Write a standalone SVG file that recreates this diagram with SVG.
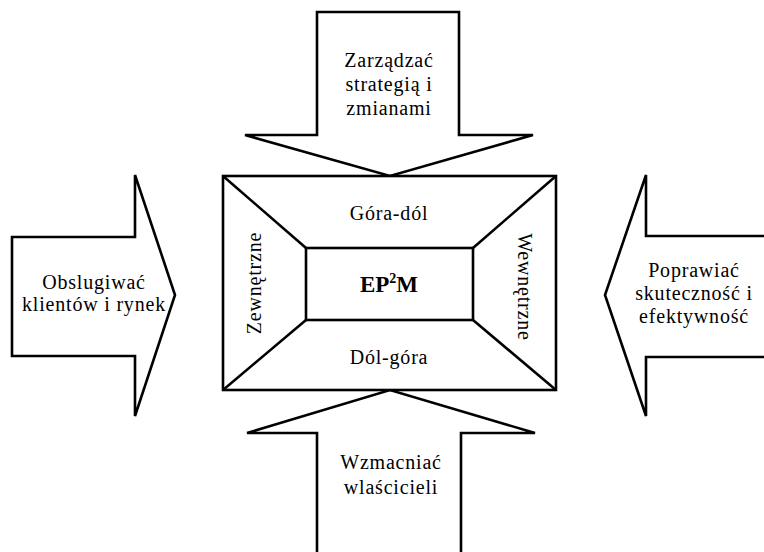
<svg xmlns="http://www.w3.org/2000/svg" width="764" height="552" viewBox="0 0 764 552">
  <style>
    .shape { fill: #ffffff; stroke: #000000; stroke-width: 2.6; stroke-linejoin: miter; }
    .line { fill: none; stroke: #000000; stroke-width: 2.6; }
    .lbl { font-family: "Liberation Serif", "Times New Roman", serif; font-size: 20px; fill: #000000; text-anchor: middle; letter-spacing: 0.8px; }
    .core { font-family: "Liberation Serif", "Times New Roman", serif; font-size: 23px; font-weight: bold; fill: #000000; text-anchor: middle; }
  </style>
  <rect width="764" height="552" fill="#ffffff"/>

  <!-- arrows pointing at the central frame -->
  <g id="connectors">
    <g id="arrow-top">
      <polygon class="shape" points="317,12 459,12 459,135 533,135 390,176 245,135 317,135"/>
      <text class="lbl" x="389" y="67">Zarządzać</text>
      <text class="lbl" x="389" y="91">strategią i</text>
      <text class="lbl" x="389" y="115">zmianami</text>
    </g>
    <g id="arrow-bottom">
      <path class="shape" d="M317,556 L317,433 L247,433 L390,390 L535,433 L461,433 L461,556"/>
      <text class="lbl" x="391" y="469">Wzmacniać</text>
      <text class="lbl" x="391" y="494">wlaścicieli</text>
    </g>
    <g id="arrow-left">
      <polygon class="shape" points="12,237 135,237 135,175 175,295 135,416 135,356 12,356"/>
      <text class="lbl" x="94" y="289">Obslugiwać</text>
      <text class="lbl" x="94" y="311">klientów i rynek</text>
    </g>
    <g id="arrow-right">
      <path class="shape" d="M768,236 L646,236 L646,175 L605,295 L646,416 L646,357 L768,357"/>
      <text class="lbl" x="694" y="277">Poprawiać</text>
      <text class="lbl" x="694" y="300">skuteczność i</text>
      <text class="lbl" x="694" y="323">efektywność</text>
    </g>
  </g>

  <!-- central frame with four trapezoids around the core -->
  <g id="frame">
    <rect class="shape" x="223" y="176" width="333" height="214"/>
    <line class="line" x1="223" y1="176" x2="306" y2="248"/>
    <line class="line" x1="556" y1="176" x2="473" y2="248"/>
    <line class="line" x1="223" y1="390" x2="306" y2="320"/>
    <line class="line" x1="556" y1="390" x2="473" y2="320"/>
    <text class="lbl" x="389" y="220">Góra-dól</text>
    <text class="lbl" x="389" y="364">Dól-góra</text>
    <text class="lbl" transform="translate(261,283) rotate(-90)">Zewnętrzne</text>
    <text class="lbl" transform="translate(518,287) rotate(90)">Wewnętrzne</text>
  </g>

  <g id="core">
    <rect class="shape" x="306" y="248" width="167" height="72"/>
    <text class="core" x="389" y="292">EP<tspan font-size="14" dy="-9">2</tspan><tspan dy="9">M</tspan></text>
  </g>
</svg>
